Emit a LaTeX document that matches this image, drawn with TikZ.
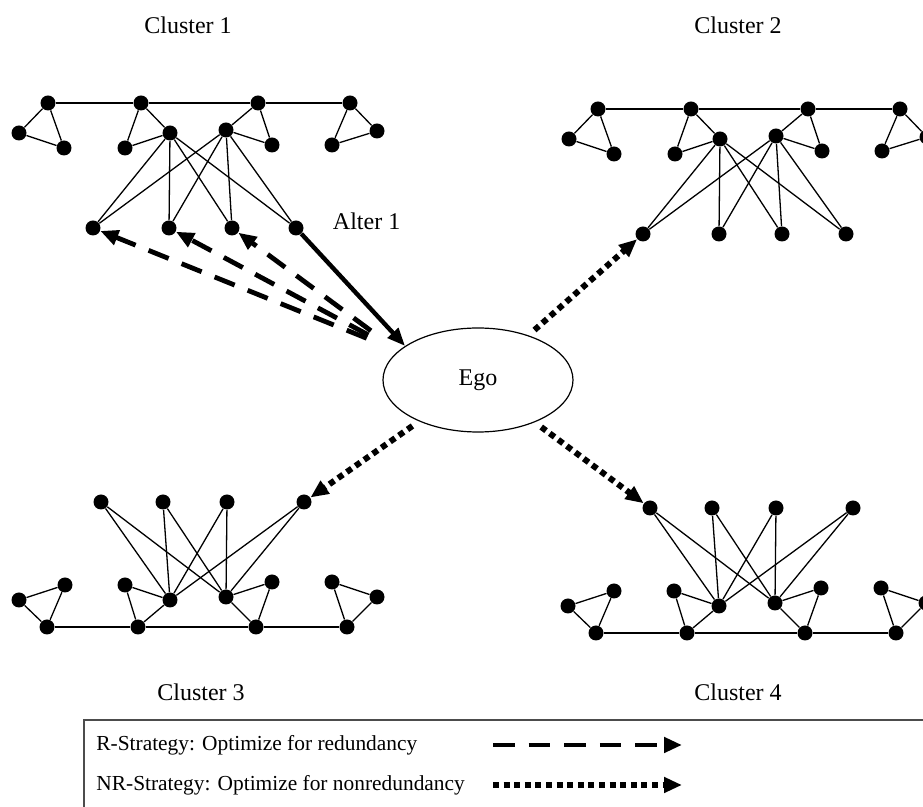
\documentclass[tikz,border=0pt]{standalone}
\usepackage{fontspec}
\setmainfont{Liberation Serif}
\usetikzlibrary{arrows.meta}
\usetikzlibrary{positioning}
\usetikzlibrary{shapes.geometric}

\tikzset{
	dot/.style={
		circle,
		fill=black,
		inner sep=0pt,
		minimum size=7.5pt,
	},
	link/.style={
		line width=0.65pt,
	},
	egobox/.style={
		ellipse,
		draw,
		line width=0.6pt,
		minimum width=95pt,
		minimum height=52pt,
	},
	alterarrow/.style={
		line width=2.2pt,
		-{Triangle[length=9pt,width=7pt]},
	},
	rarrow/.style={
		line width=2.4pt,
		dash pattern=on 10.8pt off 7pt,
		-{Triangle[length=9pt,width=7.5pt]},
	},
	nrarrow/.style={
		line width=3pt,
		dash pattern=on 3pt off 2.3pt,
		-{Triangle[length=9pt,width=7.5pt]},
	},
	legbox/.style={
		draw=black!70,
		line width=0.6pt,
	},
	legtext/.style={
		anchor=west,
		inner sep=0pt,
		font=\fontsize{10.7}{12}\selectfont,
	},
	upcluster/.pic={
		\foreach \n/\x/\y in {t1/48/103, t2/141/103, t3/258/103, t4/350/103,
			p1/19/133, q1/64/148, p2/125/148, h1/170/133,
			h2/226/130, q3/272/145, q4/377/131, p4/332/145,
			b1/93/228, b2/169/228, b3/232/228, b4/296/228}
			\node[dot] (-\n) at (\x,\y) {};
		\draw[link] (-t1) -- (-t2) -- (-t3) -- (-t4);
		\foreach \a/\b in {t1/p1, p1/q1, q1/t1, t2/p2, p2/h1, h1/t2,
			t3/h2, h2/q3, q3/t3, t4/q4, q4/p4, p4/t4}
			\draw[link] (-\a) -- (-\b);
		\foreach \h in {h1,h2}
			\foreach \b in {b1,b2,b3,b4}
				\draw[link] (-\h) -- (-\b);
	},
	downcluster/.pic={
		\foreach \n/\x/\y in {t1/47/627, t2/138/627, t3/256/627, t4/347/627,
			p1/19/600, q1/65/585, p2/125/585, h1/170/600,
			h2/226/597, q3/272/582, p4/332/582, q4/377/597,
			a1/101/502, a2/163/502, a3/227/502, a4/304/502}
			\node[dot] (-\n) at (\x,\y) {};
		\draw[link] (-t1) -- (-t2) -- (-t3) -- (-t4);
		\foreach \a/\b in {t1/p1, p1/q1, q1/t1, t2/p2, p2/h1, h1/t2,
			t3/h2, h2/q3, q3/t3, t4/q4, q4/p4, p4/t4}
			\draw[link] (-\a) -- (-\b);
		\foreach \h in {h1,h2}
			\foreach \a in {a1,a2,a3,a4}
				\draw[link] (-\h) -- (-\a);
	},
}

\begin{document}
\begin{tikzpicture}[x=0.5pt,y=-0.5pt,font=\fontsize{12}{14}\selectfont]
\useasboundingbox (0,0) rectangle (923,807);

\node (lab1) at (188,25) {Cluster 1};
\node (lab2) at (738,25) {Cluster 2};
\node (lab3) at (201,692) {Cluster 3};
\node (lab4) at (738,692) {Cluster 4};

\pic (c1) at (0,0) {upcluster};
\pic (c2) at (550,6) {upcluster};
\pic (c3) at (0,0) {downcluster};
\pic (c4) at (549,6) {downcluster};

\node[egobox] (ego) at (478,380) {Ego};
\node[right=11pt of c1-b4, yshift=3.5pt] (alterlab) {Alter 1};

\draw[alterarrow] (c1-b4) -- (ego.155);
\foreach \b in {b1,b2,b3}
	\draw[rarrow, shorten <=17pt] (ego.160) -- (c1-\b);
\draw[nrarrow, shorten <=4pt] (ego) -- (c2-b1);
\draw[nrarrow, shorten <=4pt] (ego) -- (c3-a4);
\draw[nrarrow, shorten <=4pt] (ego) -- (c4-a1);

\draw[legbox] (84,720) rectangle (960,840);
\node[legtext] (rtext) at (96,745) {R-Strategy: Optimize for redundancy};
\node[legtext] (nrtext) at (96,785) {NR-Strategy: Optimize for nonredundancy};
\coordinate (rfrom) at (493,745);
\coordinate (rto) at (682,745);
\coordinate (nrfrom) at (493,785);
\coordinate (nrto) at (682,785);
\draw[rarrow] (rfrom) -- (rto);
\draw[nrarrow] (nrfrom) -- (nrto);
\end{tikzpicture}
\end{document}
